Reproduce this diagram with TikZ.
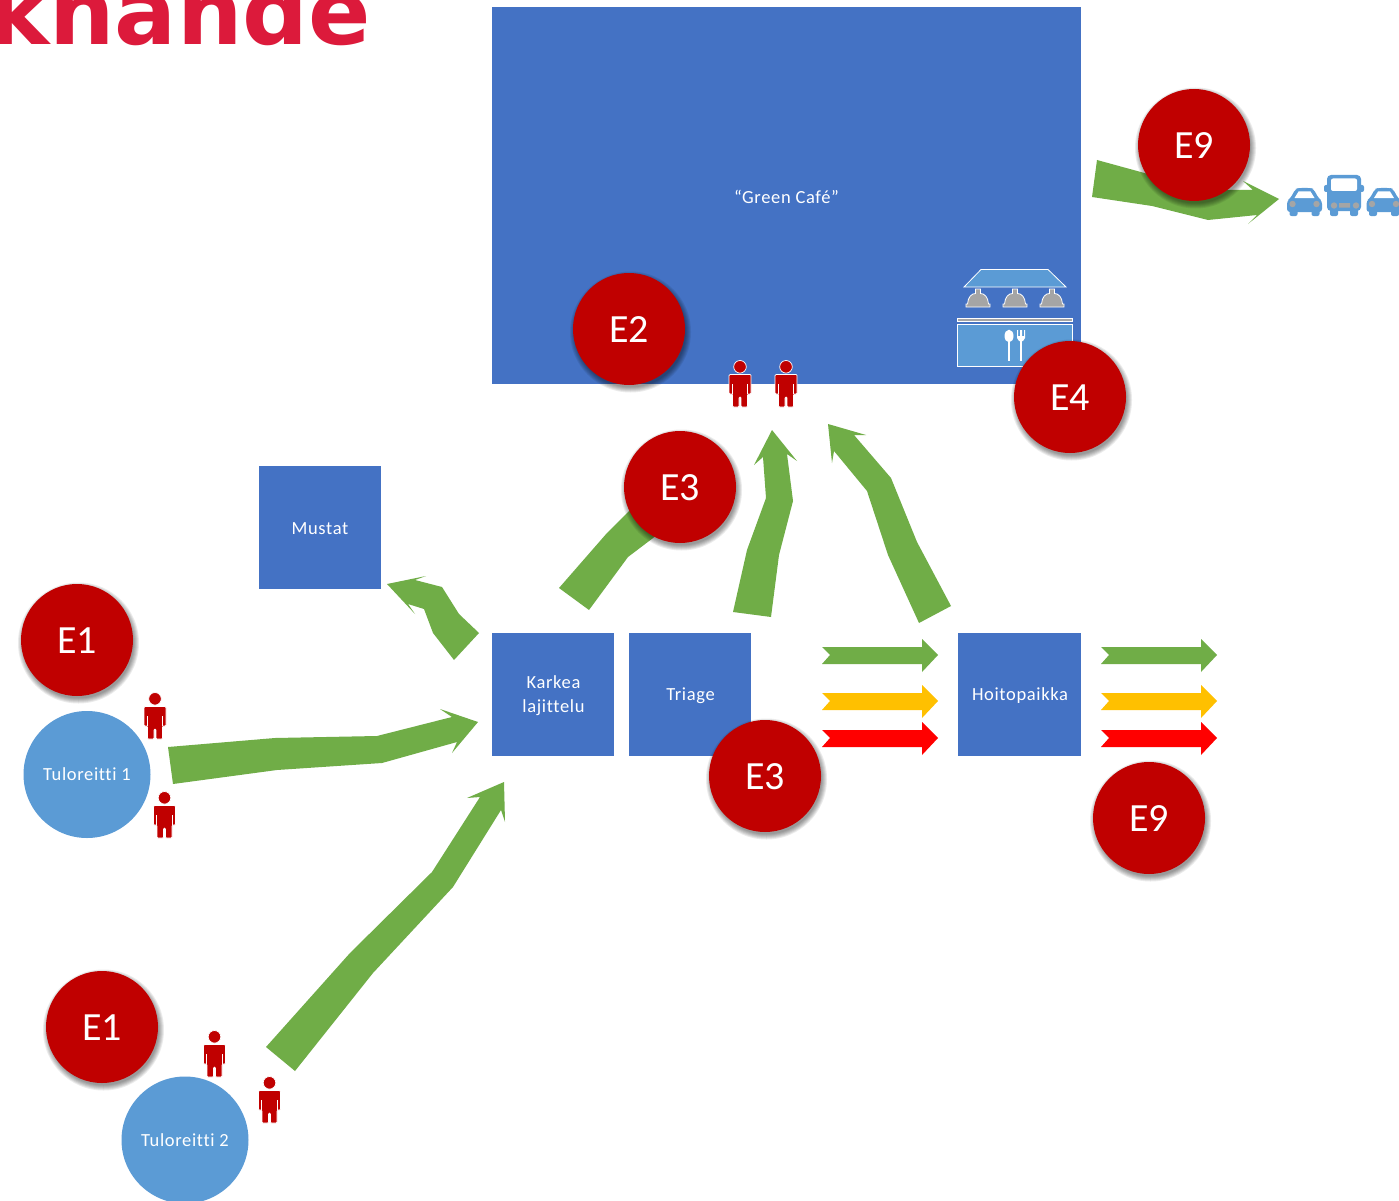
\documentclass[tikz,border=0pt]{standalone}
\usepackage{fontspec}
\setmainfont[Ligatures=NoCommon,LetterSpace=3.5]{Carlito}
\newfontfamily\badgefont[Ligatures=NoCommon]{Carlito}
\newfontfamily\titlefont{DejaVu Sans}
\definecolor{boxblue}{HTML}{4472C4}
\definecolor{lightblue}{HTML}{5B9BD5}
\definecolor{arrowgreen}{HTML}{70AD47}
\definecolor{badgered}{HTML}{C00000}
\definecolor{iconGrey}{HTML}{A5A5A5}
\definecolor{titlered}{HTML}{DC1A3B}
\definecolor{amber}{HTML}{FFC000}
\newcommand{\badgeat}[3]{%
  \foreach \rr in {60.5,59.5,58.5,57.5,56.5,55.5}{\fill[black,opacity=.08] (#1+1.5,#2+3) circle[radius=\rr];}
  \node[badge] (#3) at (#1,#2) {\csname badgetext#3\endcsname};}
\newcommand{\flatarrow}[3]{%
  \fill[#3] (#1,#2-8) -- (#1+8,#2) -- (#1,#2+9) -- (#1+100,#2+9) -- (#1+100,#2+17) -- (#1+116,#2) -- (#1+100,#2-16) -- (#1+100,#2-8) -- cycle;}
\newcommand{\badgetextea}{\raisebox{-1.5pt}{E9}}\newcommand{\badgetexteb}{\raisebox{-1.5pt}{E2}}\newcommand{\badgetextec}{\raisebox{-1.5pt}{E4}}
\newcommand{\badgetexted}{\raisebox{-1.5pt}{E3}}\newcommand{\badgetextee}{\raisebox{-1.5pt}{E1}}\newcommand{\badgetextef}{\raisebox{-1.5pt}{E3}}
\newcommand{\badgetexteg}{\raisebox{-1.5pt}{E9}}\newcommand{\badgetexteh}{\raisebox{-1.5pt}{E1}}
\tikzset{
  box/.style={fill=boxblue,text=white,inner sep=0pt,align=center,font=\fontsize{18.5}{24}\selectfont},
  lbl/.style={font=\fontsize{18.5}{24}\selectfont,text=white,align=center,inner sep=0pt},
  route/.style={circle,fill=lightblue,text=white,inner sep=0pt,minimum size=127pt,font=\fontsize{18.5}{24}\selectfont},
  badge/.style={circle,fill=badgered,text=white,inner sep=0pt,minimum size=112pt,text depth=0pt,font=\badgefont\fontsize{40}{40}\selectfont},
  fat/.style={fill=arrowgreen},
  person/.pic={
    \path[fill=badgered,draw=white,line width=.7pt]
      (0,5.8) circle[radius=6.3];
    \path[fill=badgered,draw=white,line width=.7pt,rounded corners=1pt]
      (-11,13.5) -- (11,13.5) -- (11,33) -- (7.5,33) -- (7.5,46) -- (1,46) -- (1,36) -- (-1,36) -- (-1,46) -- (-7.5,46) -- (-7.5,33) -- (-11,33) -- cycle;
    \draw[white,line width=.7pt] (-7.8,23) -- (-7.8,33) (7.8,23) -- (7.8,33);
  },
  cloche/.pic={
    \path[fill=iconGrey,draw=white,line width=.8pt]
      (-12,18) -- (-12,15) -- (-10.5,15) .. controls (-10,8) and (-6.5,4.5) .. (-2.5,4.5) -- (-2.5,0) -- (2.5,0) -- (2.5,4.5) .. controls (6.5,4.5) and (10,8) .. (10.5,15) -- (12,15) -- (12,18) -- cycle;
  },
  car/.pic={
    \fill[lightblue,rounded corners=2pt] (-15,17) rectangle (-7,28);
    \fill[lightblue,rounded corners=2pt] (7,17) rectangle (15,28);
    \fill[lightblue,rounded corners=3pt] (-17.5,24) -- (-17.5,13) -- (-14,10) -- (-9,1) -- (-6,0) -- (6,0) -- (9,1) -- (14,10) -- (17.5,13) -- (17.5,24) -- cycle;
    \fill[white] (-6,3.5) -- (6,3.5) -- (10,10) -- (-10,10) -- cycle;
    \fill[iconGrey] (-12,16) circle[radius=3.2] (12,16) circle[radius=3.2];
  },
  bus/.pic={
    \fill[lightblue,rounded corners=2pt] (-14,30) rectangle (-6,41);
    \fill[lightblue,rounded corners=2pt] (6,30) rectangle (14,41);
    \fill[lightblue,rounded corners=2pt] (-20,10) rectangle (20,17);
    \fill[lightblue,rounded corners=4pt] (-17,36) -- (-17,0) -- (17,0) -- (17,36) -- cycle;
    \fill[white,rounded corners=2pt] (-13,3.5) rectangle (13,16);
    \fill[iconGrey] (-10,30.5) circle[radius=3.2] (12,30.5) circle[radius=3.2] (-5,28) rectangle (6,32.5);
  }
}
\begin{document}
\begin{tikzpicture}[x=1pt,y=-1pt]
\clip (0,0) rectangle (1399,1201);
\fill[white] (0,0) rectangle (1399,1201);
% title fragment
\node[anchor=base east,inner sep=0pt,text=titlered,font=\titlefont\bfseries\fontsize{92}{92}\selectfont] (title) at (371,44.5) {khande};
% boxes
\node[box,minimum width=589pt,minimum height=377pt] (cafe) at (786.5,195.5) {};
\node[lbl] (cafelabel) at (786.5,197) {“Green Café”};
\node[box,minimum width=122pt,minimum height=123pt] (mustat) at (320,527.5) {};
\node[lbl] (mustatlabel) at (320,529) {Mustat};
\node[box,minimum width=122pt,minimum height=123pt] (karkea) at (553,694.5) {};
\node[lbl] (karkealabel) at (553.5,696) {Karkea\\lajittelu};
\node[box,minimum width=122pt,minimum height=123pt] (triage) at (690,694.5) {};
\node[lbl] (triagelabel) at (690.5,696) {Triage};
\node[box,minimum width=123pt,minimum height=123pt] (hoito) at (1019.5,694.5) {};
\node[lbl] (hoitolabel) at (1020,696) {Hoitopaikka};
\node[route] (tulo1) at (87,774.5) {\raisebox{-1pt}{Tuloreitti 1}};
\node[route] (tulo2) at (185,1140) {\raisebox{-1pt}{Tuloreitti 2}};
% fat arrows
\fill[fat] (168,747) -- (275,738) -- (377,736) -- (452,717) -- (440,709) -- (478,722) -- (452,753) -- (457,742) -- (382,763) -- (277,770) -- (173,784) -- cycle;
\fill[fat] (266,1047) -- (350,953) -- (432,872) -- (480,797) -- (467,798) -- (504,782) -- (505,822) -- (501,810) -- (453,887) -- (373,973) -- (295,1071) -- cycle;
\fill[fat] (733,612) -- (747,550) -- (766,498) -- (763,457) -- (754,465) -- (772,430) -- (797,461) -- (787,454) -- (793,501) -- (779,555) -- (771,617) -- cycle;
\fill[fat] (919,623) -- (888,555) -- (867,491) -- (834,451) -- (832,463) -- (828,424) -- (866,435) -- (854,435) -- (891,478) -- (917,542) -- (951,606) -- cycle;
\fill[fat] (479,633) -- (459,614) -- (442,587) -- (415,580) -- (426,576) -- (387,584) -- (415,614) -- (408,604) -- (424,609) -- (433,633) -- (454,660) -- cycle;
\fill[fat] (559,588) -- (607,533) -- (660,480) -- (690,510) -- (628,557) -- (589,610) -- cycle;
\fill[fat] (1097,160) -- (1170,180) -- (1200,190) -- (1253,190) -- (1243,181) -- (1279,199) -- (1248,224) -- (1257,215) -- (1208,220) -- (1152,206) -- (1092,197) -- cycle;
% triage arrows
\flatarrow{822}{655}{arrowgreen}
\flatarrow{822}{701}{amber}
\flatarrow{822}{738}{red}
\flatarrow{1101}{655}{arrowgreen}
\flatarrow{1101}{701}{amber}
\flatarrow{1101}{738}{red}
% canteen
\fill[lightblue,draw=white,line width=.8pt] (981,269.5) -- (1048,269.5) -- (1066,287) -- (964,287) -- cycle;
\pic at (978,289) {cloche};
\pic at (1015,289) {cloche};
\pic at (1052,289) {cloche};
\fill[iconGrey,draw=white,line width=.8pt] (957.5,318.5) rectangle (1072,321.5);
\fill[lightblue,draw=white,line width=.8pt] (957.5,324.5) rectangle (1072,366.5);
\fill[white] (1009,336) ellipse[x radius=4.5,y radius=6.3];
\fill[white] (1008,338) rectangle (1010,361);
\fill[white] (1020,340) rectangle (1022,361);
\fill[white] (1017,330) -- (1018,330) -- (1018,336) -- (1020,336) -- (1020,330) -- (1022,330) -- (1022,336) -- (1024,336) -- (1024,330) -- (1025,330) -- (1025,338) -- (1023,341) -- (1019,341) -- (1017,338) -- cycle;
% vehicles
\pic at (1304.5,188) {car};
\pic at (1344,175) {bus};
\pic at (1384,188) {car};
% persons
\pic at (155,693) {person};
\pic at (164.5,792) {person};
\pic at (214.5,1031) {person};
\pic at (269.5,1077) {person};
\pic at (740,361) {person};
\pic at (786,361) {person};
% badges
\badgeat{1194}{145}{ea}
\badgeat{629}{329}{eb}
\badgeat{1070}{397}{ec}
\badgeat{680}{487}{ed}
\badgeat{77}{640}{ee}
\badgeat{765}{776}{ef}
\badgeat{1149}{818}{eg}
\badgeat{102}{1027}{eh}
\end{tikzpicture}
\end{document}
